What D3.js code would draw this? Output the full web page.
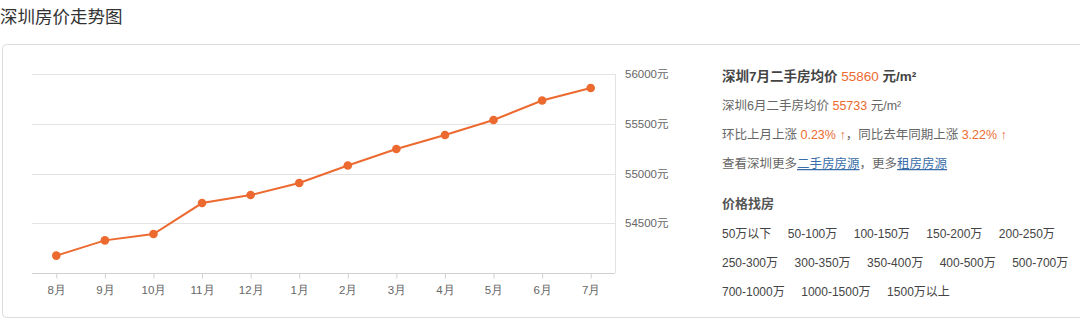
<!DOCTYPE html>
<html>
<head>
<meta charset="utf-8">
<script src="https://cdn.jsdelivr.net/npm/d3@7"></script>
<style>
  body { margin: 0; background: #fff; }
  svg { display: block; font-family: "Helvetica Neue", "Liberation Sans", "Noto Sans CJK SC", sans-serif; }
</style>
</head>
<body>
<svg id="chart" width="1080" height="320"></svg>
<script>
  // chart data
  var months = ['8月', '9月', '10月', '11月', '12月', '1月', '2月', '3月', '4月', '5月', '6月', '7月'];
  var prices = [54175, 54328, 54392, 54703, 54784, 54905, 55081, 55246, 55387, 55538, 55733, 55860];
  var yTicks = [54500, 55000, 55500, 56000];
  var priceRanges = [
    ['50万以下', '50-100万', '100-150万', '150-200万', '200-250万'],
    ['250-300万', '300-350万', '350-400万', '400-500万', '500-700万'],
    ['700-1000万', '1000-1500万', '1500万以上']
  ];

  (function() {
    var ORANGE = '#ec6a2f';
    var svg = d3.select('#chart');

    // title
    svg.append('text').attr('x', 0).attr('y', 23).attr('font-size', 17.5).attr('fill', '#333').text('深圳房价走势图');

    // outer box
    svg.append('rect').attr('x', 2.5).attr('y', 44.5).attr('width', 1090).attr('height', 273).attr('rx', 4)
      .attr('fill', 'none').attr('stroke', '#dcdcdc');

    var plotLeft = 32, plotRight = 615, plotTop = 74, plotBottom = 273;
    var x = d3.scalePoint().domain(months).range([plotLeft, plotRight]).padding(0.5);
    var y = d3.scaleLinear().domain([54000, 56000]).range([plotBottom, plotTop]);

    // grid
    svg.append('g').selectAll('line').data(yTicks).enter().append('line')
      .attr('x1', plotLeft).attr('x2', plotRight)
      .attr('y1', function(d) { return Math.round(y(d)) + 0.5; }).attr('y2', function(d) { return Math.round(y(d)) + 0.5; })
      .attr('stroke', '#e3e3e3');
    svg.append('line').attr('x1', plotRight + 0.5).attr('x2', plotRight + 0.5).attr('y1', plotTop).attr('y2', plotBottom)
      .attr('stroke', '#e3e3e3');

    // right axis labels
    svg.append('g').selectAll('text').data(yTicks).enter().append('text')
      .attr('x', 625).attr('y', function(d) { return y(d) + 4; })
      .attr('font-size', 11.5).attr('fill', '#666').text(function(d) { return d + '元'; });

    // x axis
    var xAxis = d3.axisBottom(x).tickSize(5).tickSizeOuter(0).tickPadding(7);
    var gx = svg.append('g').attr('transform', 'translate(0,' + (plotBottom + 0.5) + ')').call(xAxis);
    gx.select('.domain').attr('stroke', '#d0d0d0').attr('d', 'M' + plotLeft + ',0H' + plotRight);
    gx.selectAll('.tick line').attr('stroke', '#d0d0d0');
    gx.selectAll('.tick text').attr('font-size', 11.5).attr('fill', '#666').attr('font-family', null);

    // line + dots
    var line = d3.line().x(function(d, i) { return x(months[i]); }).y(function(d) { return y(d); });
    svg.append('path').datum(prices).attr('d', line).attr('fill', 'none').attr('stroke', ORANGE).attr('stroke-width', 2);
    svg.append('g').selectAll('circle').data(prices).enter().append('circle')
      .attr('cx', function(d, i) { return x(months[i]); }).attr('cy', function(d) { return y(d); })
      .attr('r', 4.3).attr('fill', ORANGE);

    // info panel
    var info = svg.append('g').attr('transform', 'translate(722,0)');
    var t1 = info.append('text').attr('y', 81).attr('font-size', 13.5).attr('font-weight', 'bold').attr('fill', '#444');
    t1.append('tspan').text('深圳7月二手房均价 ');
    t1.append('tspan').attr('fill', ORANGE).attr('font-weight', 'normal').text('55860');
    t1.append('tspan').text(' 元/m²');

    var t2 = info.append('text').attr('y', 110).attr('font-size', 12.5).attr('fill', '#666');
    t2.append('tspan').text('深圳6月二手房均价 ');
    t2.append('tspan').attr('fill', ORANGE).text('55733');
    t2.append('tspan').text(' 元/m²');

    var t3 = info.append('text').attr('y', 139).attr('font-size', 12.5).attr('fill', '#666');
    t3.append('tspan').text('环比上月上涨 ');
    t3.append('tspan').attr('fill', ORANGE).text('0.23% ↑');
    t3.append('tspan').text('，同比去年同期上涨 ');
    t3.append('tspan').attr('fill', ORANGE).text('3.22% ↑');

    var t4 = info.append('text').attr('y', 168).attr('font-size', 12.5).attr('fill', '#666');
    t4.append('tspan').text('查看深圳更多');
    t4.append('tspan').attr('fill', '#3a6da8').attr('text-decoration', 'underline').text('二手房房源');
    t4.append('tspan').text('，更多');
    t4.append('tspan').attr('fill', '#3a6da8').attr('text-decoration', 'underline').text('租房房源');

    info.append('text').attr('y', 208).attr('font-size', 13).attr('font-weight', 'bold').attr('fill', '#555').text('价格找房');

    priceRanges.forEach(function(row, r) {
      var cx = 0;
      row.forEach(function(label) {
        var t = info.append('text').attr('x', cx).attr('y', 238 + r * 29).attr('font-size', 12).attr('fill', '#444').text(label);
        cx += t.node().getComputedTextLength() + 16.5;
      });
    });
  })();
</script>
</body>
</html>
